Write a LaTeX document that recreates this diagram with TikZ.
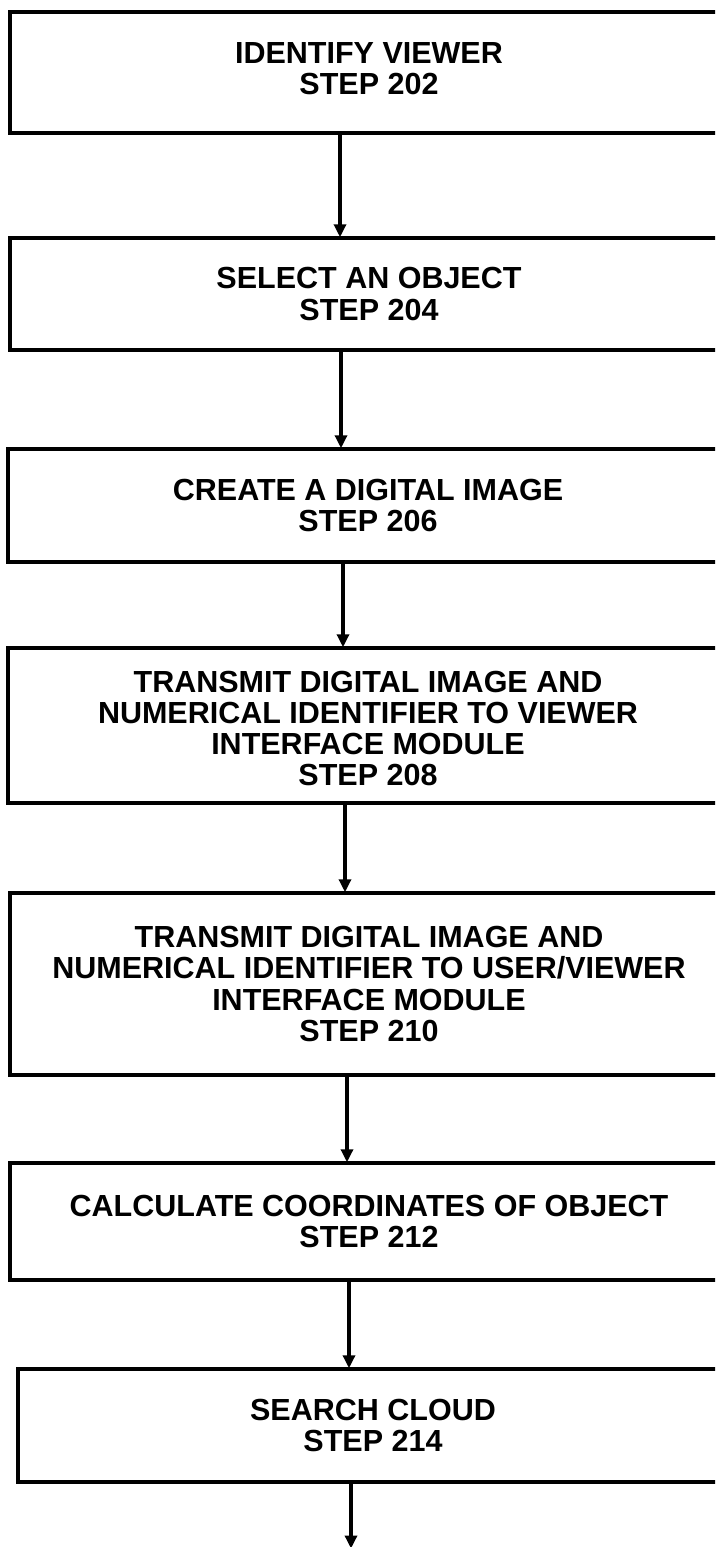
\documentclass[tikz,border=0pt]{standalone}
\usepackage{fontspec}
\setmainfont{Liberation Sans}
\usetikzlibrary{arrows.meta}
\begin{document}
\begin{tikzpicture}[x=1pt,y=-1pt,
  stepbox/.style={draw=black, line width=4.5pt, rectangle, inner sep=0pt, align=center,
    font=\fontsize{30.5}{31.3}\selectfont\bfseries},
  steptext/.style={inner sep=0pt, align=center, font=\fontsize{30.5}{31.3}\selectfont\bfseries},
  arr/.style={line width=3.5pt, -{Triangle[length=13pt,width=12pt]}, shorten >=-1.5pt}]
\useasboundingbox (0,0) rectangle (715,1547);
\clip (0,0) rectangle (715,1547);
\fill[white] (0,0) rectangle (715,1547);
% boxes: left, top, bottom; right edge at 728 (off page)
\node[stepbox, minimum width=718pt, minimum height=121pt] (b1) at (369,72.5) {};
\node[steptext] (t1) at ([yshift=4pt]b1.center) {IDENTIFY VIEWER\\STEP 202};
\node[stepbox, minimum width=718pt, minimum height=112pt] (b2) at (369,294) {SELECT AN OBJECT\\STEP 204};
\node[stepbox, minimum width=720pt, minimum height=113pt] (b3) at (368,505.5) {CREATE A DIGITAL IMAGE\\STEP 206};
\node[stepbox, minimum width=720pt, minimum height=155pt] (b4) at (368,725.5) {};
\node[steptext] (t4) at ([yshift=-3pt]b4.center) {TRANSMIT DIGITAL IMAGE AND\\NUMERICAL IDENTIFIER TO VIEWER\\INTERFACE MODULE\\STEP 208};
\node[stepbox, minimum width=718pt, minimum height=182pt] (b5) at (369,984) {TRANSMIT DIGITAL IMAGE AND\\NUMERICAL IDENTIFIER TO USER/VIEWER\\INTERFACE MODULE\\STEP 210};
\node[stepbox, minimum width=718pt, minimum height=117pt] (b6) at (369,1221.5) {CALCULATE COORDINATES OF OBJECT\\STEP 212};
\node[stepbox, minimum width=710pt, minimum height=113pt] (b7) at (373,1425.5) {SEARCH CLOUD\\STEP 214};
\coordinate (x1) at (340,0);
\coordinate (x2) at (341,0);
\coordinate (x3) at (343,0);
\coordinate (x4) at (345,0);
\coordinate (x5) at (347,0);
\coordinate (x6) at (349,0);
\coordinate (x7) at (351,0);
\coordinate (end) at (351,1547);
\draw[arr] (b1.south -| x1) -- (b2.north -| x1);
\draw[arr] (b2.south -| x2) -- (b3.north -| x2);
\draw[arr] (b3.south -| x3) -- (b4.north -| x3);
\draw[arr] (b4.south -| x4) -- (b5.north -| x4);
\draw[arr] (b5.south -| x5) -- (b6.north -| x5);
\draw[arr] (b6.south -| x6) -- (b7.north -| x6);
\draw[arr] (b7.south -| x7) -- (end);
\end{tikzpicture}
\end{document}
